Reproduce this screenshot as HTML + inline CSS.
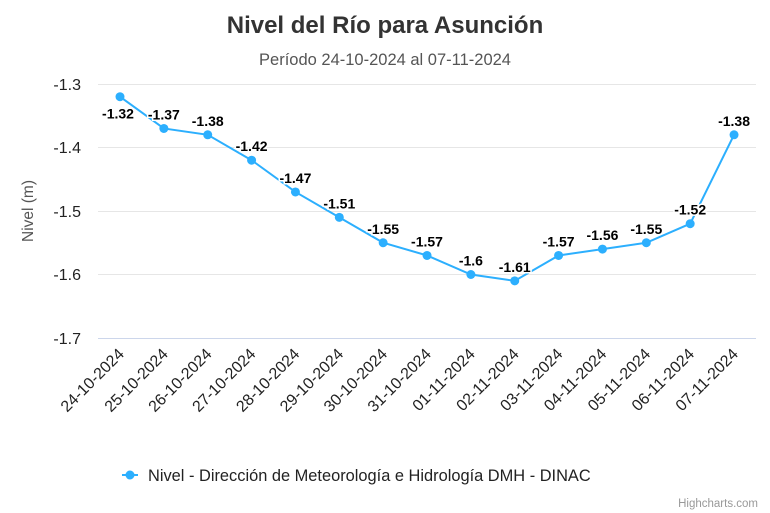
<!DOCTYPE html>
<html><head><meta charset="utf-8"><style>
body{margin:0;background:#fff;}
svg{display:block;font-family:"Liberation Sans",Arial,sans-serif;}
</style></head><body>
<svg width="770" height="513" viewBox="0 0 770 513">
<rect width="770" height="513" fill="#fff"/>
<text x="385" y="33" text-anchor="middle" font-size="24" font-weight="bold" fill="#333">Nivel del Río para Asunción</text>
<text x="385" y="65" text-anchor="middle" font-size="16.5" fill="#555">Período 24-10-2024 al 07-11-2024</text>
<g stroke="#e6e6e6" stroke-width="1">
<line x1="98" x2="756" y1="84.5" y2="84.5"/>
<line x1="98" x2="756" y1="147.5" y2="147.5"/>
<line x1="98" x2="756" y1="211.5" y2="211.5"/>
<line x1="98" x2="756" y1="274.5" y2="274.5"/>
</g>
<line x1="98" x2="756" y1="338.5" y2="338.5" stroke="#ccd6eb"/>
<g font-size="16" fill="#222" text-anchor="end">
<text x="81" y="90">-1.3</text>
<text x="81" y="153">-1.4</text>
<text x="81" y="217">-1.5</text>
<text x="81" y="280">-1.6</text>
<text x="81" y="344">-1.7</text>
</g>
<text transform="translate(33,211) rotate(-90)" text-anchor="middle" font-size="15.5" fill="#555">Nivel (m)</text>
<g id="xl" font-size="16" fill="#222" text-anchor="end"></g>
<polyline id="ln" fill="none" stroke="#2caffe" stroke-width="2"/>
<g id="pts" fill="#2caffe"></g>
<g id="dl" font-size="14" font-weight="bold" fill="#000" text-anchor="middle" stroke="#fff" stroke-width="3" paint-order="stroke"></g>
<line x1="122" x2="138" y1="475" y2="475" stroke="#2caffe" stroke-width="2"/>
<circle cx="130" cy="475" r="4.5" fill="#2caffe"/>
<text x="148" y="481" font-size="16.4" fill="#222">Nivel - Dirección de Meteorología e Hidrología DMH - DINAC</text>
<text x="758" y="507" text-anchor="end" font-size="11.5" fill="#999">Highcharts.com</text>
</svg>
<script>
var v=[-1.32,-1.37,-1.38,-1.42,-1.47,-1.51,-1.55,-1.57,-1.6,-1.61,-1.57,-1.56,-1.55,-1.52,-1.38];
var d=["24-10-2024","25-10-2024","26-10-2024","27-10-2024","28-10-2024","29-10-2024","30-10-2024","31-10-2024","01-11-2024","02-11-2024","03-11-2024","04-11-2024","05-11-2024","06-11-2024","07-11-2024"];
var ns="http://www.w3.org/2000/svg",p=[],pts=document.getElementById('pts'),dl=document.getElementById('dl'),xl=document.getElementById('xl');
v.forEach(function(y,i){var x=120+i*43.86,yy=84+(-1.3-y)*635;p.push(x+","+yy);
var c=document.createElementNS(ns,'circle');c.setAttribute('cx',x);c.setAttribute('cy',yy);c.setAttribute('r',4.5);pts.appendChild(c);
var t=document.createElementNS(ns,'text');t.setAttribute('x',i==0?x-2:x);t.setAttribute('y',i==0?yy+22:yy-9);t.textContent=String(y);dl.appendChild(t);
var l=document.createElementNS(ns,'text');l.setAttribute('transform','translate('+(x+5)+',355) rotate(-45)');l.textContent=d[i];xl.appendChild(l);});
document.getElementById('ln').setAttribute('points',p.join(' '));
</script>
</body></html>
